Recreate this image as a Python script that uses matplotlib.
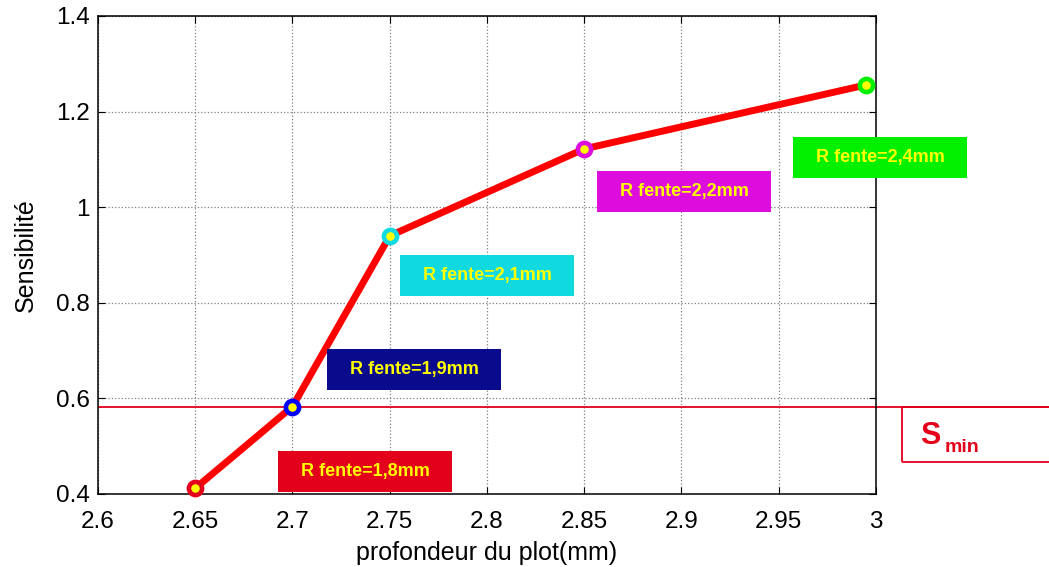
import matplotlib.pyplot as plt
from matplotlib.patches import Rectangle

plt.rcParams['font.family'] = ['Liberation Sans', 'DejaVu Sans']

profondeur = [2.65, 2.70, 2.75, 2.85, 2.995]
sensibilite = [0.412, 0.583, 0.940, 1.122, 1.256]
couleurs = ['#e2001a', '#0000ff', '#11d9e0', '#dd0ddd', '#00f000']
etiquettes = ['R fente=1,8mm', 'R fente=1,9mm', 'R fente=2,1mm', 'R fente=2,2mm', 'R fente=2,4mm']
fond_etiquettes = ['#e2001a', '#0a0a8c', '#11d9e0', '#dd0ddd', '#00f000']
# coin bas-gauche des étiquettes (données)
pos_etiquettes = [(2.6925, 0.4042), (2.7177, 0.6176), (2.7553, 0.8142), (2.8566, 0.9900), (2.9573, 1.0611)]
s_min = 0.582

fig = plt.figure(figsize=(10.49, 5.67), dpi=100)
ax = fig.add_axes([98 / 1049, 1 - 494 / 567, 778 / 1049, 478 / 567])

ax.plot(profondeur, sensibilite, color='#ff0000', lw=5, zorder=3, solid_capstyle='butt')
for x, y, c in zip(profondeur, sensibilite, couleurs):
    ax.plot(x, y, 'o', ms=9.5, mfc='#ffff00', mec=c, mew=3.3, zorder=4, clip_on=False)

ax.set_xlim(2.6, 3.0)
ax.set_ylim(0.4, 1.4)
ax.set_xticks([2.6, 2.65, 2.7, 2.75, 2.8, 2.85, 2.9, 2.95, 3.0])
ax.set_xticklabels(['2.6', '2.65', '2.7', '2.75', '2.8', '2.85', '2.9', '2.95', '3'])
ax.set_yticks([0.4, 0.6, 0.8, 1.0, 1.2, 1.4])
ax.set_yticklabels(['0.4', '0.6', '0.8', '1', '1.2', '1.4'])
ax.tick_params(direction='in', top=True, right=True, labelsize=17.5, length=5)
ax.tick_params(axis='x', pad=12)
ax.tick_params(axis='y', pad=6)
ax.grid(True, color='#808080', linestyle=':', linewidth=0.9)
for s in ax.spines.values():
    s.set_linewidth(1.1)
ax.set_xlabel('profondeur du plot(mm)', fontsize=18, labelpad=6)
ax.set_ylabel('Sensibilité', fontsize=18, labelpad=13)

# ligne S min qui sort des axes
ax.axhline(s_min, color='#e2001a', lw=1.3, zorder=2)
trans = ax.get_yaxis_transform()
ax.plot([1.0, 1.3], [s_min, s_min], color='#e2001a', lw=1.3, transform=trans, clip_on=False)

larg, haut = 0.0895, 0.0855
for (x0, y0), txt, bg in zip(pos_etiquettes, etiquettes, fond_etiquettes):
    ax.add_patch(Rectangle((x0, y0), larg, haut, fc=bg, ec='none', zorder=6, clip_on=False))
    ax.text(x0 + larg / 2, y0 + haut / 2, txt, color='#ffff00', fontsize=13, fontweight='bold',
            ha='center', va='center', zorder=7, clip_on=False)

# boite S min (coordonnées figure)
fig.patches.append(Rectangle((902 / 1049, 1 - 462 / 567), 160 / 1049, 55 / 567, transform=fig.transFigure,
                             fill=False, ec='#e2001a', lw=1.3))
fig.text(920 / 1049, 1 - 436 / 567, 'S', color='#e2001a', fontsize=22, fontweight='bold', va='center')
fig.text(945 / 1049, 1 - 447 / 567, 'min', color='#e2001a', fontsize=14, fontweight='bold', va='center')

fig.savefig('out.png', dpi=100)
